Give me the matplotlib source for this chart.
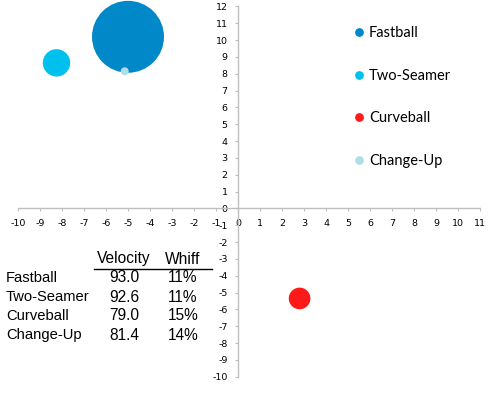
import matplotlib
matplotlib.use("Agg")
import matplotlib.pyplot as plt
from matplotlib.lines import Line2D

pitches = ["Fastball", "Two-Seamer", "Curveball", "Change-Up"]
h_move = [-5.0, -8.25, 2.8, -5.15]
v_move = [10.2, 8.65, -5.35, 8.15]
usage = [65, 9.4, 5.9, 0.8]
velocity = ["93.0", "92.6", "79.0", "81.4"]
whiff = ["11%", "11%", "15%", "14%"]
colors = ["#0088C8", "#00C0EE", "#FF1A1A", "#B2DDE8"]
x_ticks = list(range(-10, 12))
y_ticks = list(range(-10, 13))

W, H = 498, 393
fig = plt.figure(figsize=(W / 100, H / 100), dpi=100)
ax = fig.add_axes([18 / W, (H - 376.7) / H, 462 / W, 370.2 / H])
ax.set_xlim(-10, 11)
ax.set_ylim(-10, 12)

for xi, yi, u, c in zip(h_move, v_move, usage, colors):
    ax.scatter([xi], [yi], s=u * 41.3, color=c, edgecolors="none", zorder=3, clip_on=False)

for s in ["top", "right"]:
    ax.spines[s].set_visible(False)
ax.spines["left"].set_position(("data", 0))
ax.spines["bottom"].set_position(("data", 0))
for s in ["left", "bottom"]:
    ax.spines[s].set_color("#BFBFBF")
    ax.spines[s].set_linewidth(1.0)
ax.set_xticks(x_ticks)
ax.set_yticks(y_ticks)
ax.tick_params(axis="both", direction="out", length=2.5, width=0.8, color="#BFBFBF",
               labelsize=6.8, pad=5)
ax.set_xticklabels([str(t) for t in x_ticks])
ax.set_yticklabels([str(t) for t in y_ticks])

handles = [Line2D([], [], marker="o", linestyle="none", markersize=6.3, color=c,
                  markeredgewidth=0) for c in colors]
ax.legend(handles, pitches, loc="upper left", bbox_to_anchor=(350 / W, 1 - 26 / H),
          bbox_transform=fig.transFigure, frameon=False, prop={"family": "Lato", "size": 10.5},
          labelspacing=1.97, handletextpad=0.1, handlelength=1.2, borderpad=0, borderaxespad=0)

tfont = {"family": "Liberation Sans", "size": 10.6}
vfont = {"family": "Liberation Sans", "size": 11.2}
fig.text(124 / W, 1 - 259 / H, "Velocity", ha="center", va="center", **vfont)
fig.text(183 / W, 1 - 259 / H, "Whiff", ha="center", va="center", **vfont)
fig.add_artist(Line2D([94 / W, 212 / W], [1 - 269 / H, 1 - 269 / H], color="black",
                      linewidth=1.0, transform=fig.transFigure))
for i, p in enumerate(pitches):
    yy = 1 - (278 + 19 * i) / H
    fig.text(6 / W, yy, p, ha="left", va="center", **tfont)
    fig.text(124 / W, yy, velocity[i], ha="center", va="center", **vfont)
    fig.text(183 / W, yy, whiff[i], ha="center", va="center", **vfont)

fig.savefig("out.png", dpi=100)
